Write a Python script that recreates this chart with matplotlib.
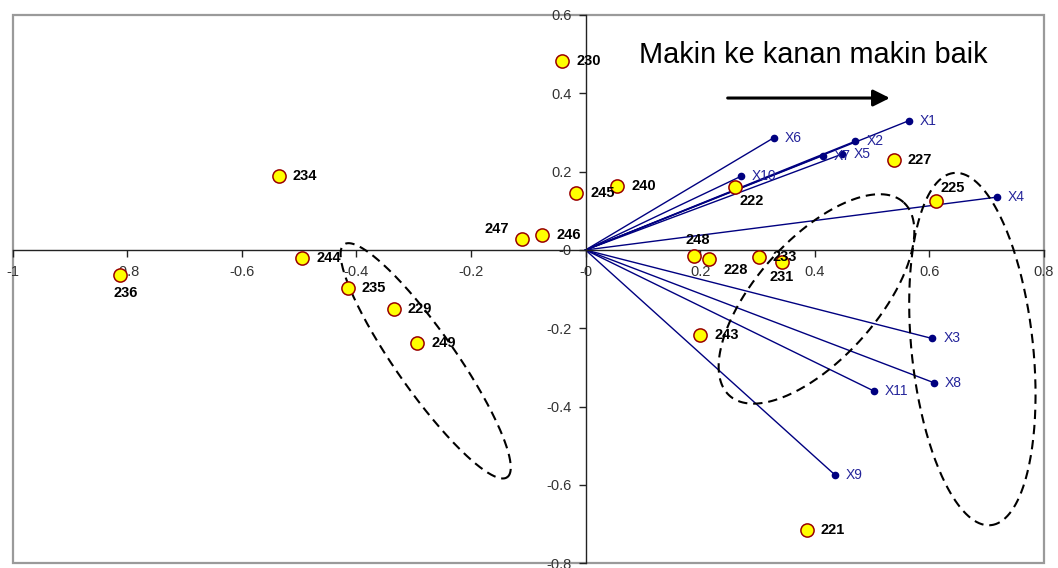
import numpy as np
import matplotlib
matplotlib.use('Agg')
import matplotlib.pyplot as plt
from matplotlib.patches import Rectangle
from matplotlib.ticker import FuncFormatter

# observation scores (yellow circles)
obs_labels = ['230', '234', '244', '236', '235', '229', '249', '247', '246', '245',
              '240', '222', '248', '228', '233', '231', '243', '221', '227', '225']
obs_x = [-0.041, -0.535, -0.494, -0.812, -0.415, -0.335, -0.294, -0.111, -0.076, -0.016,
         0.055, 0.261, 0.190, 0.216, 0.302, 0.343, 0.200, 0.386, 0.538, 0.612]
obs_y = [0.483, 0.190, -0.020, -0.064, -0.096, -0.151, -0.237, 0.029, 0.038, 0.146,
         0.163, 0.161, -0.015, -0.022, -0.017, -0.031, -0.216, -0.715, 0.231, 0.125]

# variable loadings (blue vectors)
var_labels = ['X1', 'X2', 'X3', 'X4', 'X5', 'X6', 'X7', 'X8', 'X9', 'X10', 'X11']
var_x = [0.564, 0.471, 0.605, 0.718, 0.448, 0.329, 0.414, 0.608, 0.435, 0.271, 0.503]
var_y = [0.330, 0.278, -0.226, 0.135, 0.245, 0.287, 0.241, -0.339, -0.574, 0.188, -0.360]

W, H = 1058, 568
fig = plt.figure(figsize=(W / 100, H / 100), dpi=100)
ax_l, ax_r, ax_t, ax_b = 12.5, 1044, 15, 563.3
ax = fig.add_axes([ax_l / W, (H - ax_b) / H, (ax_r - ax_l) / W, (ax_b - ax_t) / H])
ax.set_xlim(-1, 0.8)
ax.set_ylim(-0.8, 0.6)
# px per unit ratio, used to draw the ovals in screen proportions
k = ((ax_r - ax_l) / 1.8) / ((ax_b - ax_t) / 1.4)

font = 'Liberation Sans'

for s in ['top', 'right']:
    ax.spines[s].set_visible(False)
ax.spines['left'].set_position(('data', 0))
ax.spines['bottom'].set_position(('data', 0))
for s in ['left', 'bottom']:
    ax.spines[s].set_color('#222222')
    ax.spines[s].set_linewidth(1.0)
ax.add_patch(Rectangle((0, 0), 1, 1, transform=ax.transAxes, fill=False,
                       edgecolor='#9a9a9a', lw=1.6, clip_on=False, zorder=0))

ax.set_xticks(np.round(np.arange(-1, 0.81, 0.2), 1))
ax.set_yticks(np.round(np.arange(-0.8, 0.61, 0.2), 1))
fmt = FuncFormatter(lambda v, p: '%g' % round(v, 1))
ax.xaxis.set_major_formatter(fmt)
ax.yaxis.set_major_formatter(fmt)
ax.tick_params(direction='out', length=5, width=1, colors='#222222', labelsize=10.5)
ax.tick_params(axis='x', pad=6)
ax.tick_params(axis='y', pad=5)
for lab in ax.get_xticklabels() + ax.get_yticklabels():
    lab.set_fontfamily(font)
    lab.set_color('#333333')

# vectors
navy = '#000080'
for lab, vx, vy in zip(var_labels, var_x, var_y):
    ax.plot([0, vx], [0, vy], color=navy, lw=1.0, zorder=2)
    ax.plot(vx, vy, 'o', color=navy, ms=4.5, zorder=3)
    ax.annotate(lab, (vx, vy), xytext=(11, 0), textcoords='offset pixels',
                va='center', ha='left', fontsize=10, color='#24249a', family=font, zorder=5)

# observation points
ax.plot(obs_x, obs_y, 'o', ms=9.5, mfc='#ffff00', mec='#990000', mew=1.1, ls='none', zorder=4)
label_off = {'236': (5, -18, 'center'), '247': (-13, 10, 'right'), '222': (4, -14, 'left'),
             '248': (3, 16, 'center'), '228': (14, -11, 'left'), '231': (0, -15, 'center'),
             '225': (16, 13, 'center')}
for lab, ox, oy in zip(obs_labels, obs_x, obs_y):
    dx, dy, ha = label_off.get(lab, (14, 0, 'left'))
    ax.annotate(lab, (ox, oy), xytext=(dx, dy), textcoords='offset pixels',
                va='center', ha=ha, fontsize=10.5, fontweight='bold', color='black',
                family=font, zorder=6)


def oval(cx, cy, a, b, deg):
    t = np.linspace(0, 2 * np.pi, 300)
    th = np.radians(deg)
    dx = a * np.cos(t) * np.cos(th) - b * np.sin(t) * np.sin(th)
    dy = (a * np.cos(t) * np.sin(th) + b * np.sin(t) * np.cos(th)) * k
    ax.plot(cx + dx, cy + dy, color='black', lw=1.5, ls=(0, (4.5, 2.8)), zorder=3)


oval(-0.279, -0.283, 0.248, 0.052, -55)
oval(0.403, -0.125, 0.227, 0.105, 48)
oval(0.675, -0.253, 0.309, 0.106, -84)

ax.text(0.398, 0.498, 'Makin ke kanan makin baik', ha='center', va='center',
        fontsize=20.8, family=font, color='black')
ax.annotate('', xy=(0.531, 0.388), xytext=(0.248, 0.388),
            arrowprops=dict(arrowstyle='-|>,head_length=0.5,head_width=0.25',
                            lw=2.2, color='black', mutation_scale=20, shrinkA=0, shrinkB=0))

fig.savefig('out.png', dpi=100)
